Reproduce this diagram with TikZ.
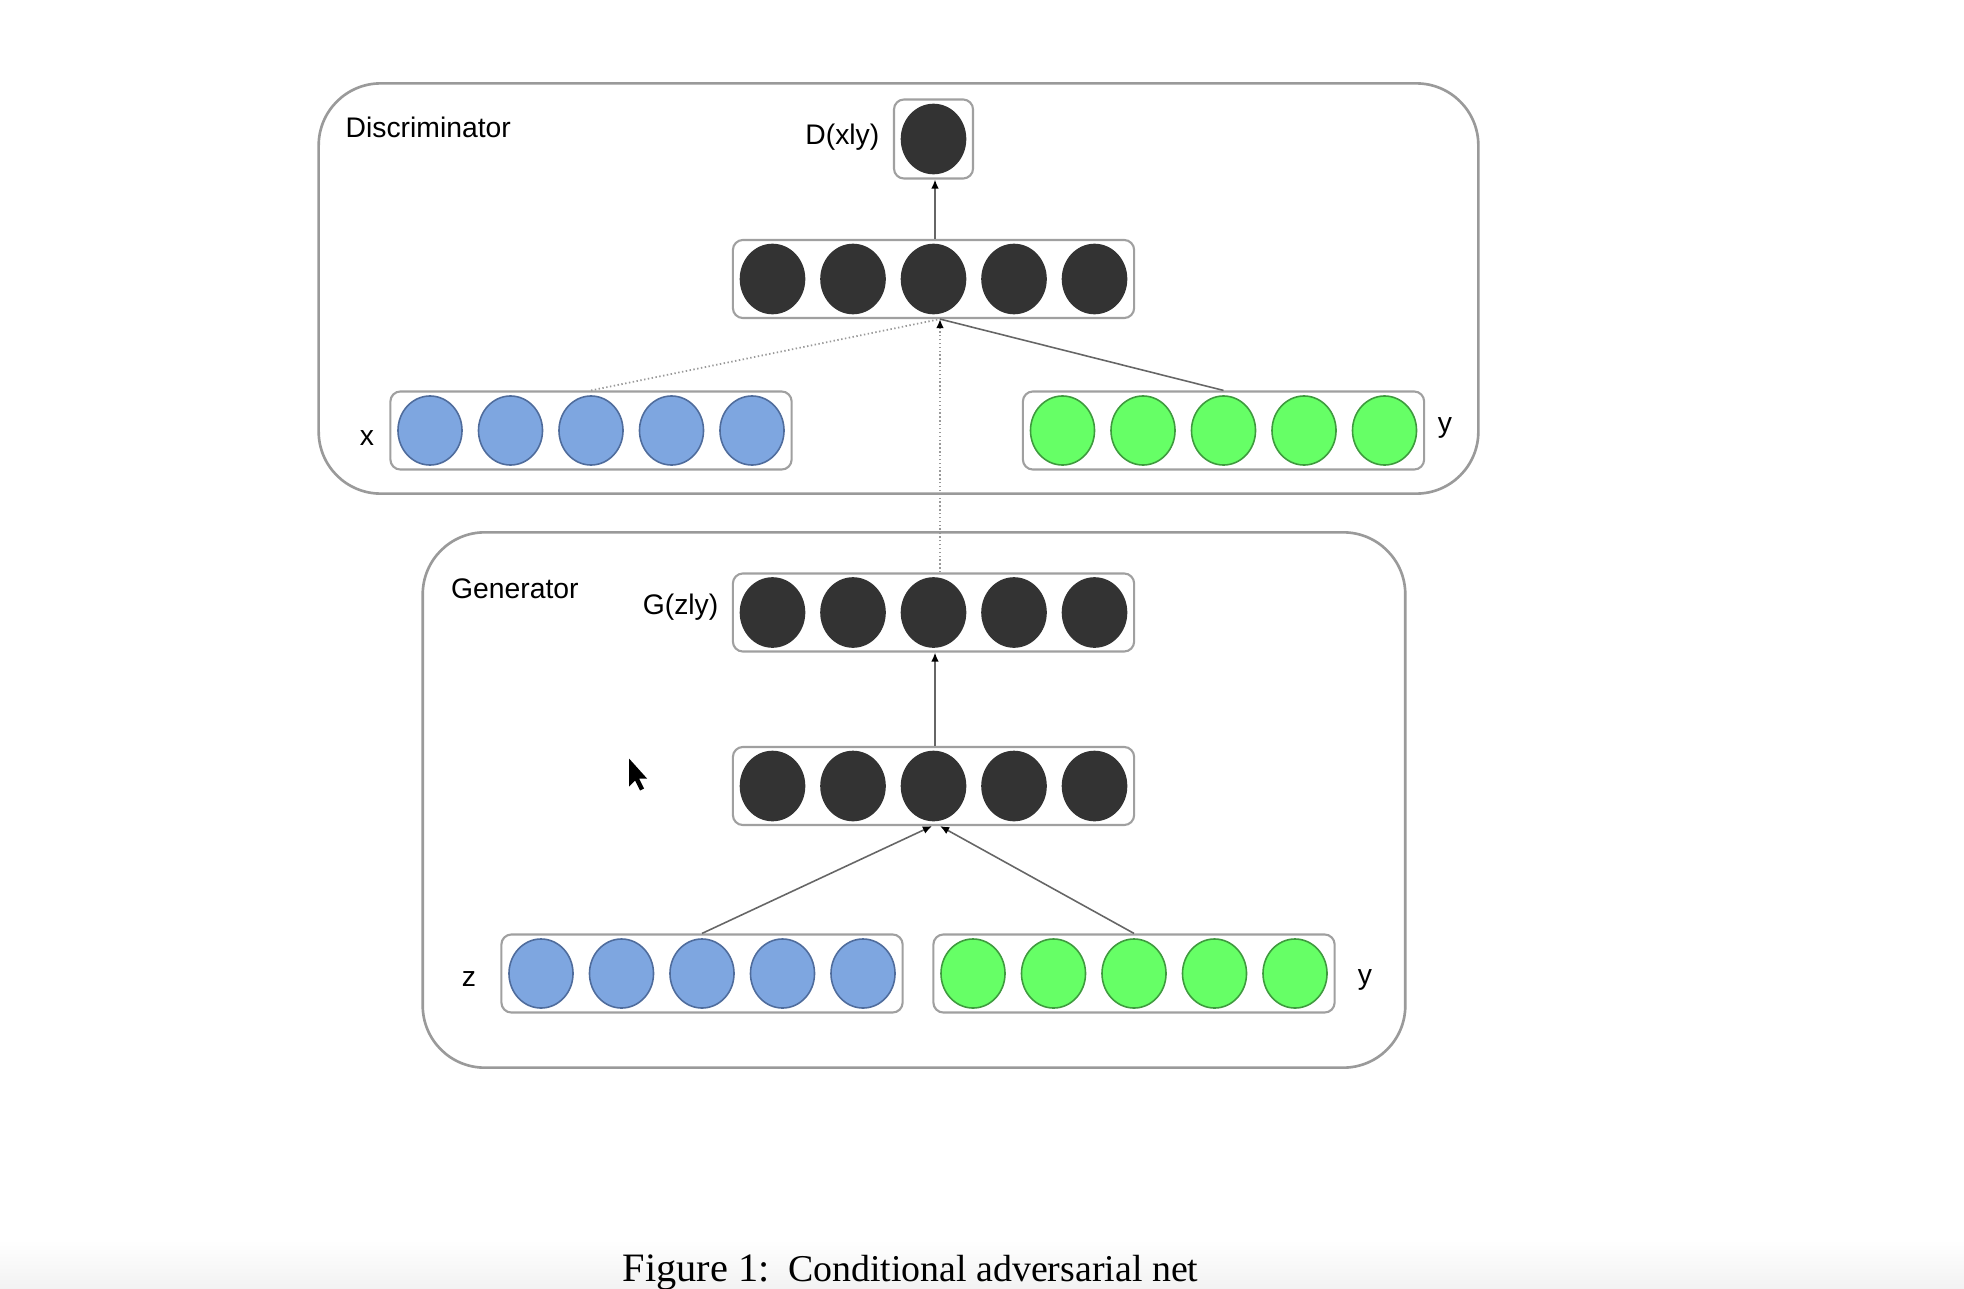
\documentclass[tikz,border=0pt]{standalone}
\usepackage{fontspec}
\setmainfont{Liberation Sans}
\newfontfamily\capfont{Liberation Serif}
\usetikzlibrary{shapes.geometric,arrows.meta,calc}
\definecolor{darkn}{HTML}{333333}
\definecolor{bluefill}{HTML}{7EA6E0}
\definecolor{blueedge}{HTML}{4F6C9C}
\definecolor{greenfill}{HTML}{66FF66}
\definecolor{greenedge}{HTML}{3E9A3E}
\definecolor{boxgray}{HTML}{A0A0A0}
\definecolor{panelgray}{HTML}{9A9A9A}
\definecolor{linegray}{HTML}{666666}
\definecolor{dotgray}{HTML}{999999}
\begin{document}
\begin{tikzpicture}[x=0.01cm,y=-0.01cm,
  panel/.style={draw=panelgray,line width=0.75pt,rounded corners=0.62cm,inner sep=0},
  layer/.style={draw=boxgray,line width=0.6pt,rounded corners=0.1cm,minimum width=4.01cm,minimum height=0.78cm,inner sep=0},
  single/.style={draw=boxgray,line width=0.6pt,rounded corners=0.1cm,minimum width=0.79cm,minimum height=0.79cm,inner sep=0},
  neuron/.style={ellipse,minimum width=0.64cm,minimum height=0.69cm,inner sep=0,line width=0.45pt},
  darkneuron/.style={neuron,fill=darkn,draw=darkn},
  blueneuron/.style={neuron,fill=bluefill,draw=blueedge},
  greenneuron/.style={neuron,fill=greenfill,draw=greenedge},
  lbl/.style={inner sep=0,font=\fontsize{8.05pt}{9pt}\selectfont},
  conn/.style={draw=linegray,line width=0.45pt},
  dotconn/.style={draw=dotgray,line width=0.5pt,dash pattern=on 0.4pt off 0.7pt},
  tip/.style={-{Latex[length=2.6pt,width=2.2pt,color=black]}}
]
\useasboundingbox (0,0) rectangle (1964,1288);
\shade[top color=white,bottom color=black!5] (0,1240) rectangle (1964,1288);

\begin{scope}[xshift=0.03cm,yshift=-0.025cm]
% panels
\node[panel,minimum width=11.59cm,minimum height=4.10cm] (disc) at (895.5,286) {};
\node[panel,minimum width=9.82cm,minimum height=5.35cm] (gen) at (911,797.5) {};
\node[lbl,anchor=west] (disclbl) at (342,125) {Discriminator};
\node[lbl,anchor=west] (genlbl) at (447.5,586) {Generator};

% layers
\node[single] (dout) at (930.5,136.5) {};
\node[layer] (dh) at (930.5,276.5) {};
\node[layer] (xl) at (588,428) {};
\node[layer] (ydl) at (1220.5,428) {};
\node[layer] (gz) at (930.5,610) {};
\node[layer] (gh) at (930.5,783.5) {};
\node[layer] (zl) at (699,971) {};
\node[layer] (ygl) at (1131,971) {};

% neurons
\node[darkneuron] (doutn) at (dout) {};
\foreach \i in {1,...,5}{
  \node[darkneuron] (dh\i) at ($(dh)+(\i*80.5-241.5,0)$) {};
  \node[blueneuron] (xl\i) at ($(xl)+(\i*80.5-241.5,0)$) {};
  \node[greenneuron] (ydl\i) at ($(ydl)+(\i*80.5-241.5,0)$) {};
  \node[darkneuron] (gz\i) at ($(gz)+(\i*80.5-241.5,0)$) {};
  \node[darkneuron] (gh\i) at ($(gh)+(\i*80.5-241.5,0)$) {};
  \node[blueneuron] (zl\i) at ($(zl)+(\i*80.5-241.5,0)$) {};
  \node[greenneuron] (ygl\i) at ($(ygl)+(\i*80.5-241.5,0)$) {};
}

% labels
\node[lbl,anchor=east] (doutlbl) at (877,135) {D(xly)};
\node[lbl,anchor=east] (gzlbl) at (716,605) {G(zly)};
\node[lbl] (xlbl) at (364,436) {x};
\node[lbl] (ydlbl) at (1442,425) {y};
\node[lbl] (zlbl) at (466,977) {z};
\node[lbl] (yglbl) at (1362,977) {y};

% connectors
\coordinate (dhin) at ([xshift=0.065cm]dh.south);
\draw[dotconn] (xl.north) -- (dhin);
\draw[conn] (ydl.north) -- (dhin);
\draw[dotconn,tip] ([xshift=0.065cm]gz.north) -- (dhin);
\draw[conn,tip] ([xshift=0.015cm]dh.north) -- ([xshift=0.015cm]dout.south);
\draw[conn,tip] ([xshift=0.015cm]gh.north) -- ([xshift=0.015cm]gz.south);
\draw[conn,tip] (zl.north) -- ([xshift=-0.015cm]gh.south);
\draw[conn,tip] (ygl.north) -- ([xshift=0.065cm]gh.south);

% mouse pointer
\fill[black] (626,756) -- (626,784) -- (632,778) -- (637,788) -- (641,786) -- (636,776) -- (644,776) -- cycle;

% caption
\node[inner sep=0,anchor=base,font=\capfont] (caption) at (907.5,1279) {{\fontsize{11.47pt}{13pt}\selectfont Figure 1:}\hspace{5.3pt}{\fontsize{10.77pt}{13pt}\selectfont Conditional adversarial net}};
\end{scope}
\end{tikzpicture}
\end{document}
